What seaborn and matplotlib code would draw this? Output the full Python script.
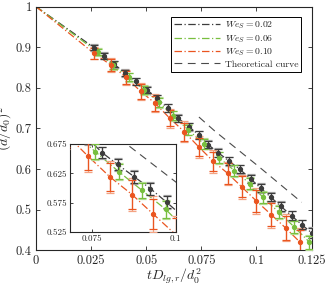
import numpy as np
import matplotlib
matplotlib.use("Agg")
import matplotlib.pyplot as plt
import seaborn as sns

# We_S = 0.02
black_t = [0.0263, 0.0307, 0.0355, 0.0404, 0.0454, 0.0503, 0.0550, 0.0597, 0.0645, 0.0694, 0.0739,
           0.0781, 0.0827, 0.0877, 0.0925, 0.0973, 0.1019, 0.1064, 0.1111, 0.1159, 0.1205, 0.1250]
black_y = [0.899, 0.879, 0.858, 0.836, 0.816, 0.795, 0.774, 0.750, 0.725, 0.704, 0.684,
           0.660, 0.640, 0.619, 0.599, 0.576, 0.553, 0.531, 0.508, 0.485, 0.463, 0.443]
black_err = [0.007, 0.007, 0.007, 0.008, 0.008, 0.008, 0.008, 0.009, 0.009, 0.009, 0.009,
             0.009, 0.010, 0.010, 0.010, 0.010, 0.010, 0.010, 0.011, 0.011, 0.011, 0.012]

# We_S = 0.06
green_t = [0.0280, 0.0350, 0.0420, 0.0490, 0.0560, 0.0620, 0.0690, 0.0760,
           0.0830, 0.0900, 0.0970, 0.1030, 0.1100, 0.1170, 0.1240]
green_y = [0.888, 0.855, 0.826, 0.795, 0.764, 0.731, 0.697, 0.662,
           0.628, 0.596, 0.564, 0.530, 0.494, 0.458, 0.420]
green_err = [0.008, 0.009, 0.010, 0.010, 0.011, 0.011, 0.012, 0.012,
             0.013, 0.013, 0.014, 0.014, 0.015, 0.015, 0.016]

# We_S = 0.10
orange_t = [0.0263, 0.0340, 0.0408, 0.0475, 0.0540, 0.0607, 0.0672, 0.0739,
            0.0804, 0.0870, 0.0933, 0.1000, 0.1066, 0.1132, 0.1197]
orange_y = [0.885, 0.856, 0.826, 0.791, 0.762, 0.725, 0.692, 0.654,
            0.619, 0.589, 0.556, 0.521, 0.488, 0.455, 0.420]
orange_err = [0.013, 0.015, 0.016, 0.018, 0.019, 0.020, 0.022, 0.023,
              0.024, 0.025, 0.026, 0.028, 0.028, 0.029, 0.030]

theory_t = [0.0739, 0.0812, 0.1008, 0.1205]
theory_y = [0.728, 0.693, 0.607, 0.518]

series = [
    ("$We_S = 0.02$", black_t, black_y, black_err, "#3c3c3c", "#a8a8a8"),
    ("$We_S = 0.06$", green_t, green_y, green_err, "#78bf3f", "#b9df98"),
    ("$We_S = 0.10$", orange_t, orange_y, orange_err, "#ea5520", "#f4a383"),
]

sns.set_style("ticks")
plt.rcParams["font.family"] = ["cmr10", "DejaVu Serif"]
plt.rcParams["mathtext.fontset"] = "cm"
plt.rcParams["axes.formatter.use_mathtext"] = True
plt.rcParams["axes.unicode_minus"] = False

fig = plt.figure(figsize=(3.27, 2.86), dpi=100)
ax = fig.add_axes([0.110, 0.125, 0.843, 0.852])
axin = fig.add_axes([0.214, 0.188, 0.323, 0.309])

dashdot = (0, (6, 2, 1, 2))


def draw(a, ms, cap, lw):
    for label, t, y, err, col, light in series:
        sns.lineplot(x=[0.0] + t, y=[1.0] + y, ax=a, color=col, lw=lw,
                     linestyle=dashdot, label=label, legend=False, sort=False)
        a.errorbar(t, y, yerr=[e * 1.15 for e in err], fmt="none", ecolor=light,
                   elinewidth=0.9, capsize=cap, capthick=0.9, zorder=3)
        a.errorbar(t, y, yerr=err, fmt="o", color=col, ms=ms, ecolor=col,
                   elinewidth=0.9, capsize=cap, capthick=0.9, zorder=4)
    sns.lineplot(x=theory_t, y=theory_y, ax=a, color="#4a4a4a", lw=0.8,
                 linestyle=(0, (7, 5)), label="Theoretical curve", legend=False)


draw(ax, 2.8, 3.0, 0.9)
ax.set_xlim(0, 0.125)
ax.set_ylim(0.4, 1.0)
ax.set_xticks([0, 0.025, 0.05, 0.075, 0.1, 0.125])
ax.set_xticklabels(["0", "0.025", "0.05", "0.075", "0.1", "0.125"])
ax.set_yticks([0.4, 0.5, 0.6, 0.7, 0.8, 0.9, 1.0])
ax.set_yticklabels(["0.4", "0.5", "0.6", "0.7", "0.8", "0.9", "1"])
ax.tick_params(direction="in", top=True, right=True, labelsize=9, length=3, width=0.6, pad=3)
ax.set_xlabel("$tD_{lg,r}/d_0^2$", fontsize=10, labelpad=0)
ax.set_ylabel("$(d/d_0)^2$", fontsize=10, labelpad=1)
for s in ax.spines.values():
    s.set_linewidth(0.8)

handles, labels = ax.get_legend_handles_labels()
leg = ax.legend(handles, labels, loc="upper right", bbox_to_anchor=(0.962, 0.958),
                borderaxespad=0, fontsize=7, handlelength=4.7, frameon=True,
                fancybox=False, edgecolor="black", framealpha=1, borderpad=0.3,
                labelspacing=0.18, handletextpad=0.5)
leg.get_frame().set_linewidth(0.7)

draw(axin, 2.8, 3.0, 0.9)
axin.set_xlim(0.0685, 0.1)
axin.set_ylim(0.525, 0.675)
axin.set_xticks([0.075, 0.1])
axin.set_xticklabels(["0.075", "0.1"])
axin.set_yticks([0.525, 0.575, 0.625, 0.675])
axin.set_yticklabels(["0.525", "0.575", "0.625", "0.675"])
axin.tick_params(direction="in", top=True, right=True, labelsize=6.5, length=2.5, width=0.6, pad=2)
axin.set_xlabel("")
axin.set_ylabel("")
axin.set_facecolor("white")
for s in axin.spines.values():
    s.set_linewidth(0.8)

fig.savefig("out.png", dpi=100)
